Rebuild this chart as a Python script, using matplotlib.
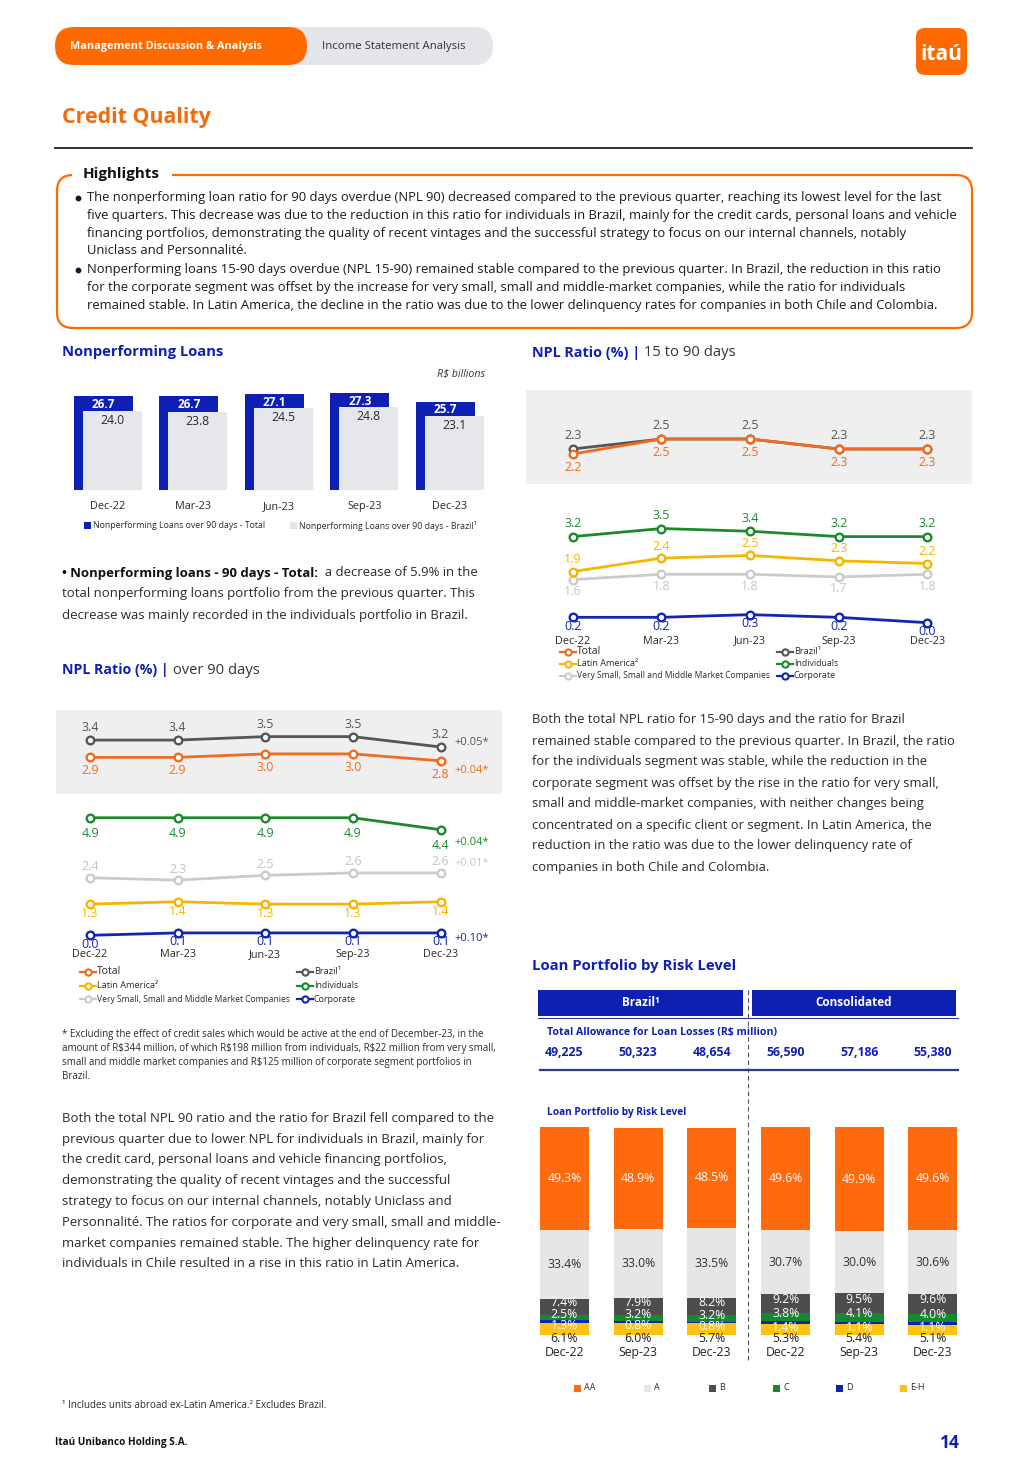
import matplotlib
matplotlib.use("Agg")
import matplotlib.pyplot as plt
from matplotlib.patches import FancyBboxPatch, Rectangle
from matplotlib import font_manager
import numpy as np

W, H = 1027, 1462
ORANGE = '#FF6A00'
TITLE_OR = '#F06B0C'
BLUE = '#0E1FB3'
DARK = '#2a2a2a'

# ---- data ----
quarters = ['Dec-22', 'Mar-23', 'Jun-23', 'Sep-23', 'Dec-23']
npl_total = [26.7, 26.7, 27.1, 27.3, 25.7]
npl_brazil = [24.0, 23.8, 24.5, 24.8, 23.1]

# NPL over 90 days (%)
o90_brazil = [3.4, 3.4, 3.5, 3.5, 3.2]
o90_total = [2.9, 2.9, 3.0, 3.0, 2.8]
o90_indiv = [4.9, 4.9, 4.9, 4.9, 4.4]
o90_vsmb = [2.4, 2.3, 2.5, 2.6, 2.6]
o90_latam = [1.3, 1.4, 1.3, 1.3, 1.4]
o90_corp = [0.0, 0.1, 0.1, 0.1, 0.1]
o90_adj = {'brazil': '+0.05*', 'total': '+0.04*', 'indiv': '+0.04*', 'vsmb': '+0.01*', 'corp': '+0.10*'}

# NPL 15 to 90 days (%)
s_brazil = [2.3, 2.5, 2.5, 2.3, 2.3]
s_total = [2.2, 2.5, 2.5, 2.3, 2.3]
s_indiv = [3.2, 3.5, 3.4, 3.2, 3.2]
s_latam = [1.9, 2.4, 2.5, 2.3, 2.2]
s_vsmb = [1.6, 1.8, 1.8, 1.7, 1.8]
s_corp = [0.2, 0.2, 0.3, 0.2, 0.0]

# loan portfolio by risk level (%)
risk_periods = ['Dec-22', 'Sep-23', 'Dec-23', 'Dec-22', 'Sep-23', 'Dec-23']
allowance = ['49,225', '50,323', '48,654', '56,590', '57,186', '55,380']
risk_levels = ['AA', 'A', 'B', 'C', 'D', 'E-H']
risk_aa = [49.3, 48.9, 48.5, 49.6, 49.9, 49.6]
risk_a = [33.4, 33.0, 33.5, 30.7, 30.0, 30.6]
risk_b = [7.4, 7.9, 8.2, 9.2, 9.5, 9.6]
risk_c = [2.5, 3.2, 3.2, 3.8, 4.1, 4.0]
risk_d = [1.3, 0.8, 0.8, 1.4, 1.1, 1.1]
risk_eh = [6.1, 6.0, 5.7, 5.3, 5.4, 5.1]

C_TOTAL = '#F26A1F'
C_BRAZIL = '#555555'
C_INDIV = '#1C8A2C'
C_VSMB = '#CBCBCB'
C_LATAM = '#F7B500'
C_CORP = '#1226B0'


# pick a family that really has a bold face installed
def has_bold(fam):
    for f in font_manager.fontManager.ttflist:
        if f.name == fam:
            w = f.weight
            if isinstance(w, str):
                w = font_manager.weight_dict.get(w, 400)
            if w >= 700:
                return True
    return False


MAIN = next((f for f in ['Noto Sans', 'Open Sans', 'Lato', 'Roboto', 'Liberation Sans'] if has_bold(f)), 'DejaVu Sans')
names = {f.name for f in font_manager.fontManager.ttflist}
NARROW = 'Liberation Sans Narrow' if 'Liberation Sans Narrow' in names else MAIN
plt.rcParams['font.family'] = [MAIN, 'DejaVu Sans']
plt.rcParams['text.parse_math'] = False

fig = plt.figure(figsize=(W / 100, H / 100), dpi=100)
bg = fig.add_axes([0, 0, 1, 1])
bg.set_xlim(0, W)
bg.set_ylim(H, 0)
bg.axis('off')
renderer = fig.canvas.get_renderer()


def box(x, y, w, h):
    ax = fig.add_axes([x / W, 1 - (y + h) / H, w / W, h / H])
    ax.patch.set_visible(False)
    for s in ax.spines.values():
        s.set_visible(False)
    ax.set_yticks([])
    ax.tick_params(length=0)
    return ax


def fit(x, y, lines, width, dy=0, ref=0, size=10, **kw):
    # scale the font so that the reference line is `width` pixels wide
    ts = [bg.text(x, y + i * dy, s, fontsize=size, va='center', **kw) for i, s in enumerate(lines)]
    w = ts[ref].get_window_extent(renderer).width
    for t in ts:
        t.set_fontsize(size * width / w)
    return ts


# ---- header ----
bg.add_patch(FancyBboxPatch((270, 27), 223, 38, boxstyle='round,pad=0,rounding_size=19', fc='#E4E5EA', ec='none'))
bg.add_patch(FancyBboxPatch((55, 27), 252, 38, boxstyle='round,pad=0,rounding_size=19', fc=ORANGE, ec='none'))
fit(70, 46, ['Management Discussion & Analysis'], 191, color='white', fontweight='bold')
fit(322, 46, ['Income Statement Analysis'], 143, color='#333333')
bg.add_patch(FancyBboxPatch((916, 28), 51, 47, boxstyle='round,pad=0,rounding_size=9', fc=ORANGE, ec='none'))
fit(941.5, 55, ['itaú'], 42, color='white', fontweight='bold', ha='center')

fit(62, 118, ['Credit Quality'], 149, color=TITLE_OR, fontweight='bold')
bg.plot([55, 972], [148, 148], color='#222222', lw=1.3)

# ---- highlights ----
bg.add_patch(FancyBboxPatch((57, 175), 915, 153, boxstyle='round,pad=0,rounding_size=16', fc='none', ec=ORANGE, lw=1.6))
bg.add_patch(Rectangle((72, 166), 100, 16, fc='white', ec='none', zorder=3))
fit(83, 174, ['Highlights'], 77, fontweight='bold', color='#111111', zorder=4)
hl = ["The nonperforming loan ratio for 90 days overdue (NPL 90) decreased compared to the previous quarter, reaching its lowest level for the last",
      "five quarters. This decrease was due to the reduction in this ratio for individuals in Brazil, mainly for the credit cards, personal loans and vehicle",
      "financing portfolios, demonstrating the quality of recent vintages and the successful strategy to focus on our internal channels, notably",
      "Uniclass and Personnalité.",
      "Nonperforming loans 15-90 days overdue (NPL 15-90) remained stable compared to the previous quarter. In Brazil, the reduction in this ratio",
      "for the corporate segment was offset by the increase for very small, small and middle-market companies, while the ratio for individuals",
      "remained stable. In Latin America, the decline in the ratio was due to the lower delinquency rates for companies in both Chile and Colombia."]
fit(87, 197, hl, 870, dy=18, ref=1, family=[NARROW, 'DejaVu Sans'], color='#1a1a1a')
bg.plot([78, 78], [198, 270], ls='none', marker='o', ms=3.2, color='#1a1a1a')

# ---- nonperforming loans bars ----
fit(62, 352, ['Nonperforming Loans'], 161, color=BLUE, fontweight='bold')
fit(485, 374, ['R$ billions'], 48, color='#333333', style='italic', ha='right')
ax = box(65, 386, 427.5, 104)
ax.set_xlim(-0.5, 4.5)
ax.set_ylim(9.8, 28.5)
x = np.arange(len(quarters))
ax.bar(x - 0.053, npl_total, 0.69, color=BLUE)
ax.bar(x + 0.053, npl_brazil, 0.69, color='#E6E7EB')
for xi, v in zip(x, npl_total):
    ax.annotate(f'{v:.1f}', (xi - 0.053, v), xytext=(0, -6), textcoords='offset points',
                ha='center', va='center', color='white', fontweight='bold', fontsize=8.5)
for xi, v in zip(x, npl_brazil):
    ax.annotate(f'{v:.1f}', (xi + 0.053, v), xytext=(0, -7), textcoords='offset points',
                ha='center', va='center', color=DARK, fontsize=8.8)
ax.set_xticks(x, quarters, fontsize=7.8, color=DARK)
ax.tick_params(axis='x', pad=8)
bg.add_patch(Rectangle((84, 522), 7, 7, fc=BLUE, ec='none'))
fit(93, 526, ['Nonperforming Loans over 90 days - Total'], 172, color=DARK)
bg.add_patch(Rectangle((290, 522), 7, 7, fc='#E2E3E7', ec='none'))
fit(299, 526, ['Nonperforming Loans over 90 days - Brazil¹'], 178, color=DARK)

ts = fit(62, 594, ['total nonperforming loans portfolio from the previous quarter. This',
                   'decrease was mainly recorded in the individuals portfolio in Brazil.'], 409, dy=21, color=DARK)
fs = ts[0].get_fontsize()
tb = bg.text(62, 573, '• Nonperforming loans - 90 days - Total:', fontsize=fs, fontweight='bold', va='center', color='#111111')
bg.annotate('  a decrease of 5.9% in the', xy=(1, 0.5), xycoords=tb, va='center', fontsize=fs, color=DARK)


# ---- line chart helpers ----
def series(ax, vals, color, lab_color, dy):
    xs = np.arange(len(vals))
    ax.plot(xs, vals, color=color, lw=2, marker='o', ms=5.5, mfc='white', mec=color, mew=1.7, zorder=3)
    for xi, v in zip(xs, vals):
        ax.annotate(f'{v:.1f}', (xi, v), xytext=(0, dy), textcoords='offset points', ha='center',
                    va='center', color=lab_color, fontsize=9, annotation_clip=False)


def legend_item(xm, y, color, label, width):
    bg.plot([xm - 8, xm + 8], [y, y], color=color, lw=1.6)
    bg.plot([xm], [y], marker='o', ms=4.5, mfc='white', mec=color, mew=1.5)
    fit(xm + 9, y, [label], width, color=DARK)


def chart_title(x, y, rest, w_bold, w_rest):
    t = fit(x, y, ['NPL Ratio (%) |'], w_bold, color=BLUE, fontweight='bold')[0]
    a = bg.annotate(' ' + rest, xy=(1, 0.5), xycoords=t, va='center', fontsize=t.get_fontsize(), color='#333333')
    a.set_fontsize(t.get_fontsize() * w_rest / a.get_window_extent(renderer).width * 1.06)


# ---- NPL over 90 days ----
chart_title(62, 670, 'over 90 days', 106, 86)
bg.add_patch(Rectangle((56, 710), 446, 84, fc='#EFEFEF', ec='none'))
xl90 = (-0.388, 4.70)
top = box(56, 710, 446, 84)
top.set_xlim(*xl90)
top.set_ylim(1.84, 4.27)
top.set_xticks([])
series(top, o90_brazil, C_BRAZIL, C_BRAZIL, 9)
series(top, o90_total, C_TOTAL, C_TOTAL, -9.5)
low = box(56, 800, 446, 145)
low.set_xlim(*xl90)
low.set_ylim(-0.404, 5.64)
series(low, o90_indiv, C_INDIV, C_INDIV, -11)
series(low, o90_vsmb, C_VSMB, '#C4C4C4', 8)
series(low, o90_latam, C_LATAM, C_LATAM, -7)
series(low, o90_corp, C_CORP, C_CORP, -6.5)
low.set_xticks(x, quarters, fontsize=7.8, color=DARK)
low.tick_params(axis='x', pad=3)
for axx, vals, key, col, dy in [(top, o90_brazil, 'brazil', C_BRAZIL, 3), (top, o90_total, 'total', C_TOTAL, -7),
                                (low, o90_indiv, 'indiv', C_INDIV, -9), (low, o90_vsmb, 'vsmb', '#C8C8C8', 7),
                                (low, o90_corp, 'corp', C_CORP, -4)]:
    axx.annotate(o90_adj[key], (4, vals[-1]), xytext=(10, dy), textcoords='offset points', ha='left',
                 va='center', color=col, fontsize=8, annotation_clip=False)
legend_item(88, 972, C_TOTAL, 'Total', 24)
legend_item(88, 985.5, C_LATAM, 'Latin America²', 62)
legend_item(88, 999, C_VSMB, 'Very Small, Small and Middle Market Companies', 192)
legend_item(305, 972, C_BRAZIL, 'Brazil¹', 27)
legend_item(305, 985.5, C_INDIV, 'Individuals', 44)
legend_item(305, 999, C_CORP, 'Corporate', 42)

fit(62, 1035, ['* Excluding the effect of credit sales which would be active at the end of December-23, in the',
               'amount of R$344 million, of which R$198 million from individuals, R$22 million from very small,',
               'small and middle market companies and R$125 million of corporate segment portfolios in',
               'Brazil.'], 434, dy=13.7, ref=1, color=DARK)

fit(62, 1118.3, ["Both the total NPL 90 ratio and the ratio for Brazil fell compared to the",
                 "previous quarter due to lower NPL for individuals in Brazil, mainly for",
                 "the credit card, personal loans and vehicle financing portfolios,",
                 "demonstrating the quality of recent vintages and the successful",
                 "strategy to focus on our internal channels, notably Uniclass and",
                 "Personnalité. The ratios for corporate and very small, small and middle-",
                 "market companies remained stable. The higher delinquency rate for",
                 "individuals in Chile resulted in a rise in this ratio in Latin America."], 429, dy=20.8, color=DARK)

# ---- NPL 15 to 90 days ----
chart_title(532, 353, '15 to 90 days', 108, 91)
bg.add_patch(Rectangle((526, 390), 446, 94, fc='#EFEFEF', ec='none'))
xl15 = (-0.527, 4.503)
top = box(526, 390, 446, 94)
top.set_xlim(*xl15)
top.set_ylim(1.6, 3.48)
top.set_xticks([])
series(top, s_brazil, C_BRAZIL, C_BRAZIL, 9.4)
series(top, s_total, C_TOTAL, C_TOTAL, -9.4)
low = box(526, 500, 446, 130)
low.set_xlim(*xl15)
low.set_ylim(-0.271, 4.56)
series(low, s_indiv, C_INDIV, C_INDIV, 9.4)
series(low, s_vsmb, C_VSMB, '#C4C4C4', -8.6)
series(low, s_latam, C_LATAM, C_LATAM, 8.6)
series(low, s_corp, C_CORP, C_CORP, -6.5)
low.set_xticks(x, quarters, fontsize=7.8, color=DARK)
low.tick_params(axis='x', pad=4)
legend_item(568, 652, C_TOTAL, 'Total', 24)
legend_item(568, 664, C_LATAM, 'Latin America²', 62)
legend_item(568, 676, C_VSMB, 'Very Small, Small and Middle Market Companies', 192)
legend_item(785, 652, C_BRAZIL, 'Brazil¹', 27)
legend_item(785, 664, C_INDIV, 'Individuals', 44)
legend_item(785, 676, C_CORP, 'Corporate', 42)

fit(532, 720, ["Both the total NPL ratio for 15-90 days and the ratio for Brazil",
               "remained stable compared to the previous quarter. In Brazil, the ratio",
               "for the individuals segment was stable, while the reduction in the",
               "corporate segment was offset by the rise in the ratio for very small,",
               "small and middle-market companies, with neither changes being",
               "concentrated on a specific client or segment. In Latin America, the",
               "reduction in the ratio was due to the lower delinquency rate of",
               "companies in both Chile and Colombia."], 420, dy=21, ref=1, color=DARK)

# ---- loan portfolio by risk level ----
fit(532, 966, ['Loan Portfolio by Risk Level'], 206, color=BLUE, fontweight='bold')
bg.add_patch(Rectangle((538, 990), 204.5, 26, fc=BLUE, ec='none'))
bg.add_patch(Rectangle((752, 990), 204, 26, fc=BLUE, ec='none'))
bg.text(640.5, 1003, 'Brazil¹', color='white', fontweight='bold', fontsize=8.5, ha='center', va='center')
bg.text(854, 1003, 'Consolidated', color='white', fontweight='bold', fontsize=8.5, ha='center', va='center')
bg.plot([538, 958], [1018, 1018], color='#2B3990', lw=0.8)
bg.plot([748.3, 748.3], [990, 1362], color='#555555', lw=0.8, dashes=(4, 3))
fit(547, 1032.7, ['Total Allowance for Loan Losses (R$ million)'], 228, color=BLUE, fontweight='bold')
bg.plot([540, 958], [1070, 1070], color='#2B3990', lw=1.6)
fit(547, 1113, ['Loan Portfolio by Risk Level'], 140, color=BLUE, fontweight='bold')

ax = box(530, 1127.3, 438, 208)
ax.set_xlim(-0.468, 5.475)
ax.set_ylim(0, 100)
xr = np.arange(len(risk_periods))
stack = [(risk_eh, '#FFC20E'), (risk_d, '#0B22B5'), (risk_c, '#138A2E'),
         (risk_b, '#4D4D4D'), (risk_a, '#E6E6E6'), (risk_aa, '#FF6A0C')]
bottom = np.zeros(len(xr))
bottoms = []
for vals, col in stack:
    ax.bar(xr, vals, 0.665, bottom=bottom, color=col)
    bottoms.append(bottom.copy())
    bottom = bottom + np.array(vals)
eh_b, d_b, c_b, b_b, a_b, aa_b = bottoms
for i in xr:
    lab = dict(ha='center', va='center', fontsize=8.8, annotation_clip=False)
    ax.annotate(f'{risk_aa[i]:.1f}%', (i, aa_b[i] + risk_aa[i] / 2), color='white', **lab)
    ax.annotate(f'{risk_a[i]:.1f}%', (i, a_b[i] + risk_a[i] / 2), color='#333333', **lab)
    ax.annotate(f'{risk_b[i]:.1f}%', (i, b_b[i] + risk_b[i] / 2 + 2), color='white', **lab)
    ax.annotate(f'{risk_c[i]:.1f}%', (i, c_b[i] + risk_c[i]), color='white', **lab)
    ax.annotate(f'{risk_d[i]:.1f}%', (i, risk_eh[i] - 1.5), color='white', **lab)
    ax.annotate(f'{risk_eh[i]:.1f}%', (i, -1.5), color='#222222', **lab)
    ax.annotate(allowance[i], (i, 100), xytext=(0, 54), textcoords='offset points', ha='center',
                va='center', color=BLUE, fontweight='bold', fontsize=8.8, annotation_clip=False)
ax.set_xticks(xr, risk_periods, fontsize=8.8, color='#222222')
ax.tick_params(axis='x', pad=8)

leg_x = [578, 648, 713, 777, 840, 904]
for lx, lvl, (vals, col) in zip(leg_x, risk_levels, stack[::-1]):
    bg.add_patch(Rectangle((lx - 4, 1384.5), 7, 7, fc=col, ec='none'))
    bg.text(lx + 6, 1388, lvl, fontsize=6.5, va='center', color=DARK)

# ---- footer ----
fit(62, 1406, ['¹ Includes units abroad ex-Latin America.² Excludes Brazil.'], 266, family=[NARROW, 'DejaVu Sans'], color=DARK)
fit(55, 1443, ['Itaú Unibanco Holding S.A.'], 133, fontweight='bold', family=[NARROW, 'DejaVu Sans'], color='#111111')
fit(960, 1443, ['14'], 20, fontweight='bold', color=BLUE, ha='right')

fig.savefig('out.png', dpi=100)
